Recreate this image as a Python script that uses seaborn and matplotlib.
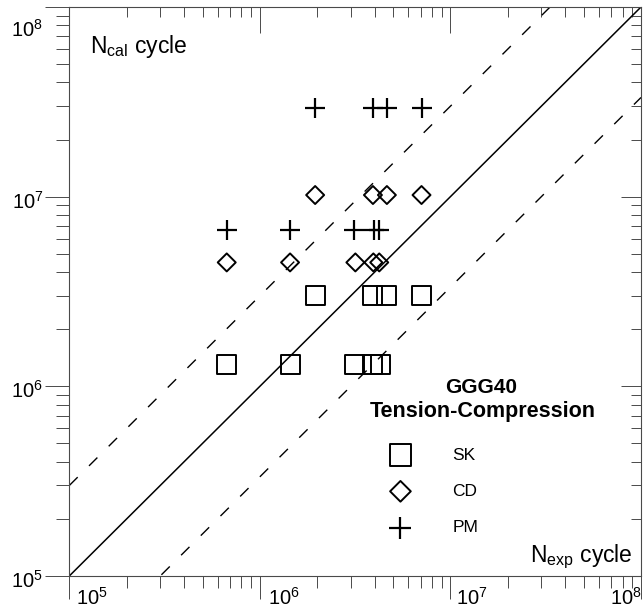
import matplotlib
matplotlib.use("Agg")
import matplotlib.pyplot as plt
import pandas as pd
import seaborn as sns
from matplotlib.ticker import LogLocator, NullFormatter, LogFormatterSciNotation
from matplotlib.transforms import ScaledTranslation

# Fatigue life of GGG40 under tension-compression:
# experimental cycles (N_exp) against calculated cycles (N_cal) for three criteria
sk_exp = [6.7e5, 1.44e6, 3.14e6, 3.9e6, 4.28e6, 1.95e6, 3.9e6, 4.64e6, 7.05e6]
sk_cal = [1.3e6, 1.3e6, 1.3e6, 1.3e6, 1.3e6, 3.0e6, 3.0e6, 3.0e6, 3.0e6]

cd_exp = [6.7e5, 1.44e6, 3.17e6, 3.94e6, 4.23e6, 1.95e6, 3.92e6, 4.64e6, 7.05e6]
cd_cal = [4.5e6, 4.5e6, 4.5e6, 4.5e6, 4.5e6, 1.02e7, 1.02e7, 1.02e7, 1.02e7]

pm_exp = [6.7e5, 1.44e6, 3.1e6, 3.96e6, 4.24e6, 1.95e6, 3.9e6, 4.64e6, 7.05e6]
pm_cal = [6.7e6, 6.7e6, 6.7e6, 6.7e6, 6.7e6, 2.95e7, 2.95e7, 2.95e7, 2.95e7]

series_names = ["SK", "CD", "PM"]

# Range of both axes and the factor-of-3 scatter band around N_cal = N_exp
axis_range = [1e5, 1e8]
band_factor = 3.0

decade_ticks = [1e5, 1e6, 1e7, 1e8]

sns.set_theme(style="ticks")
plt.rcParams["font.family"] = ["Liberation Sans", "DejaVu Sans"]
plt.rcParams["mathtext.default"] = "regular"
plt.rcParams["text.color"] = "black"
plt.rcParams["xtick.labelcolor"] = "black"
plt.rcParams["ytick.labelcolor"] = "black"

fig = plt.figure(figsize=(6.43, 6.13), dpi=100)
ax = fig.add_axes([0.1078, 0.0604, 0.8891, 0.9282])
ax.set_xscale("log")
ax.set_yscale("log")
ax.set_xlim(axis_range)
ax.set_ylim(axis_range)

# Reference lines: perfect agreement and the factor-3 band
diag = pd.DataFrame({"x": axis_range, "y": axis_range})
sns.lineplot(data=diag, x="x", y="y", ax=ax, color="black", lw=1.1)
upper = pd.DataFrame({"x": axis_range, "y": [v * band_factor for v in axis_range]})
lower = pd.DataFrame({"x": axis_range, "y": [v / band_factor for v in axis_range]})
for band in (upper, lower):
    sns.lineplot(data=band, x="x", y="y", ax=ax, color="black", lw=1.0,
                 dashes=False, linestyle=(0, (8.5, 11.5)))

# Data points
sns.scatterplot(x=sk_exp, y=sk_cal, ax=ax, marker="s", s=185, color="black",
                facecolor="none", edgecolor="black", linewidth=1.4,
                label=series_names[0], zorder=3)
sns.scatterplot(x=cd_exp, y=cd_cal, ax=ax, marker="D", s=84, color="black",
                facecolor="none", edgecolor="black", linewidth=1.4,
                label=series_names[1], zorder=3)
sns.scatterplot(x=pm_exp, y=pm_cal, ax=ax, marker="+", s=205, color="black",
                linewidth=1.6, label=series_names[2], zorder=3)

ax.set_xlabel("")
ax.set_ylabel("")

# Axis frame and ticks
frame_color = "#4a4a4a"
for sp in ax.spines.values():
    sp.set_visible(True)
    sp.set_color(frame_color)
    sp.set_linewidth(0.8)

for axis in (ax.xaxis, ax.yaxis):
    axis.set_major_locator(LogLocator(base=10))
    axis.set_minor_locator(LogLocator(base=10, subs=range(2, 10)))
    axis.set_major_formatter(LogFormatterSciNotation())
    axis.set_minor_formatter(NullFormatter())
ax.set_xticks(decade_ticks)
ax.set_yticks(decade_ticks)

ax.tick_params(axis="x", which="major", direction="out", length=16.6, width=0.7,
               color=frame_color, labelsize=14.5, pad=-9, top=False, bottom=True)
ax.tick_params(axis="x", which="minor", direction="out", length=8.6, width=0.7,
               color=frame_color, top=False, bottom=True)
ax.tick_params(axis="y", which="major", direction="out", length=17.3, width=0.7,
               color=frame_color, labelsize=14.5, pad=1.5, left=True, right=False)
ax.tick_params(axis="y", which="minor", direction="out", length=9.4, width=0.7,
               color=frame_color, left=True, right=False)

# Inward ticks along the top and right edges
secx = ax.secondary_xaxis("top")
secx.set_xticks(decade_ticks)
secx.xaxis.set_minor_locator(LogLocator(base=10, subs=range(2, 10)))
secx.xaxis.set_major_formatter(NullFormatter())
secx.xaxis.set_minor_formatter(NullFormatter())
secx.tick_params(which="major", direction="in", length=18.7, width=0.7, color=frame_color)
secx.tick_params(which="minor", direction="in", length=7.2, width=0.7, color=frame_color)
secy = ax.secondary_yaxis("right")
secy.set_yticks(decade_ticks)
secy.yaxis.set_minor_locator(LogLocator(base=10, subs=range(2, 10)))
secy.yaxis.set_major_formatter(NullFormatter())
secy.yaxis.set_minor_formatter(NullFormatter())
secy.tick_params(which="major", direction="in", length=14.4, width=0.7, color=frame_color)
secy.tick_params(which="minor", direction="in", length=7.2, width=0.7, color=frame_color)
for sec in (secx, secy):
    for sp in sec.spines.values():
        sp.set_visible(False)

# Axis titles inside the frame
ax.text(0.036, 0.919, r"$\mathregular{N_{cal}}$ cycle", transform=ax.transAxes,
        fontsize=16.5, ha="left", va="baseline")
ax.text(0.986, 0.0246, r"$\mathregular{N_{exp}}$ cycle", transform=ax.transAxes,
        fontsize=16.5, ha="right", va="baseline")

# Legend with a two-line heading
ax.text(0.720, 0.3216, "GGG40", transform=ax.transAxes, fontsize=15,
        fontweight="bold", ha="center", va="baseline")
ax.text(0.7228, 0.2794, "Tension-Compression", transform=ax.transAxes, fontsize=15.5,
        fontweight="bold", ha="center", va="baseline")
ax.legend(loc="upper left", bbox_to_anchor=(0.561, 0.226), frameon=False,
          fontsize=12.5, borderpad=0, borderaxespad=0, handlelength=1.2,
          handletextpad=2.4, labelspacing=1.22, markerscale=1.15)

# Shift tick labels beside the long decade ticks
fig.canvas.draw()
x_shift = [22.7, 23.6, 21.0, -15.0]
for lab, dx in zip(ax.xaxis.get_majorticklabels(), x_shift):
    lab.set_transform(lab.get_transform() + ScaledTranslation(dx / 100, 0, fig.dpi_scale_trans))
y_shift = [-3.0, -3.0, -3.0, -21.0]
for lab, dy in zip(ax.yaxis.get_majorticklabels(), y_shift):
    lab.set_transform(lab.get_transform() + ScaledTranslation(0, dy / 100, fig.dpi_scale_trans))

fig.savefig("out.png", dpi=100, facecolor="white")
